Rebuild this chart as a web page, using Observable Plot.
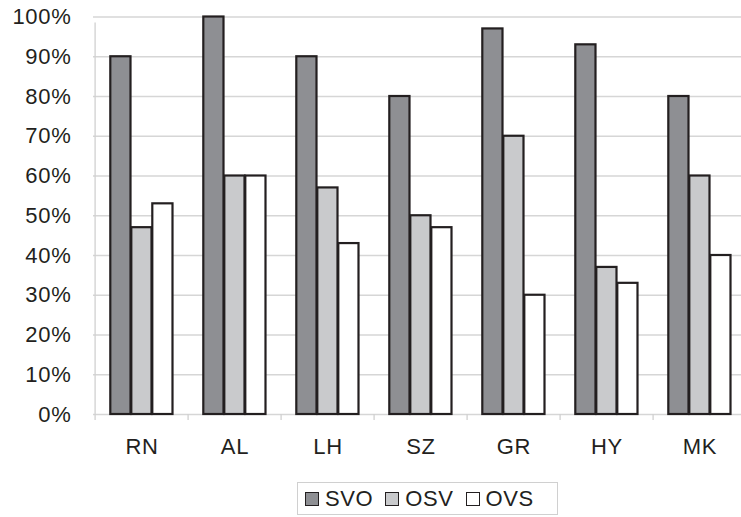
<!DOCTYPE html>
<html><head><meta charset="utf-8">
<script src="https://cdn.jsdelivr.net/npm/d3@7"></script>
<script src="https://cdn.jsdelivr.net/npm/@observablehq/plot@0.6"></script>
<style>
body{margin:0;background:#fff;font-family:"Liberation Sans",Arial,sans-serif;}
#wrap{position:relative;width:741px;height:517px;overflow:hidden;}
#chart svg text{letter-spacing:0.7px;}
#legend{position:absolute;left:297px;top:482px;width:261px;height:33px;box-sizing:border-box;border:1px solid #d0d0d0;display:flex;align-items:center;padding-left:7px;font-size:22px;color:#231f20;letter-spacing:0.6px;}
.item{display:flex;align-items:center;margin-right:12px}
.sw{width:12px;height:12px;border:1.6px solid #231f20;margin-right:6px}
</style></head>
<body><div id="wrap"><div id="chart"></div><div id="legend"></div></div>
<script>
const categories = ["RN","AL","LH","SZ","GR","HY","MK"];
const series = ["SVO","OSV","OVS"];
const svo = [90,100,90,80,97,93,80];
const osv = [47,60,57,50,70,37,60];
const ovs = [53,60,43,47,30,33,40];
const yTicks = [0,10,20,30,40,50,60,70,80,90,100];
const colors = ["#8e8f93","#c9cacc","#ffffff"];

const values = {SVO: svo, OSV: osv, OVS: ovs};
const rows = series.flatMap(s => categories.map((c, i) => ({cat: c, series: s, value: values[s][i]})));

const band = 93.8;
const x0 = 92.5;
const barStyle = {stroke: "#231f20", strokeWidth: 2.2};
const subBar = (s, insetLeft, insetRight) => Plot.barY(rows.filter(d => d.series === s), {
  x: "cat", y: "value", fill: colors[series.indexOf(s)], insetLeft, insetRight, ...barStyle
});

const chart = Plot.plot({
  width: 741,
  height: 470,
  marginLeft: 93,
  marginRight: 0,
  marginTop: 16.5,
  marginBottom: 56,
  style: {fontFamily: "'Liberation Sans', Arial, sans-serif", fontSize: "22px", color: "#231f20", background: "#fff"},
  x: {domain: categories, range: [x0, x0 + band * categories.length], padding: 0, axis: null},
  y: {domain: [0, 100], axis: null},
  marks: [
    Plot.gridY(yTicks, {stroke: "#d6d6d6", strokeOpacity: 1, strokeWidth: 1.3}),
    Plot.ruleX([categories[0]], {x: d => d, dx: -band / 2, y1: 0, y2: 100, stroke: "#d0d0d0", strokeWidth: 1.3, insetBottom: -6}),
    Plot.ruleX(categories, {x: d => d, dx: -band / 2, y1: 0, y2: 0, stroke: "#d0d0d0", strokeWidth: 1.3, insetBottom: -6}),
    subBar("SVO", 15.3, 57.5),
    subBar("OSV", 36.3, 36.5),
    subBar("OVS", 57.3, 15.5),
    Plot.axisY({ticks: yTicks, tickFormat: d => d + "%", tickSize: 0, tickPadding: 22, fontSize: 22, fill: "#231f20", label: null}),
    Plot.axisX({tickSize: 0, tickPadding: 24, fontSize: 22, fill: "#231f20", label: null})
  ]
});
document.getElementById("chart").appendChild(chart);

const legend = document.getElementById("legend");
series.forEach((s, i) => {
  const item = document.createElement("div");
  item.className = "item";
  const sw = document.createElement("div");
  sw.className = "sw";
  sw.style.background = colors[i];
  const t = document.createElement("span");
  t.textContent = s;
  item.appendChild(sw); item.appendChild(t);
  legend.appendChild(item);
});
</script>
</body></html>
